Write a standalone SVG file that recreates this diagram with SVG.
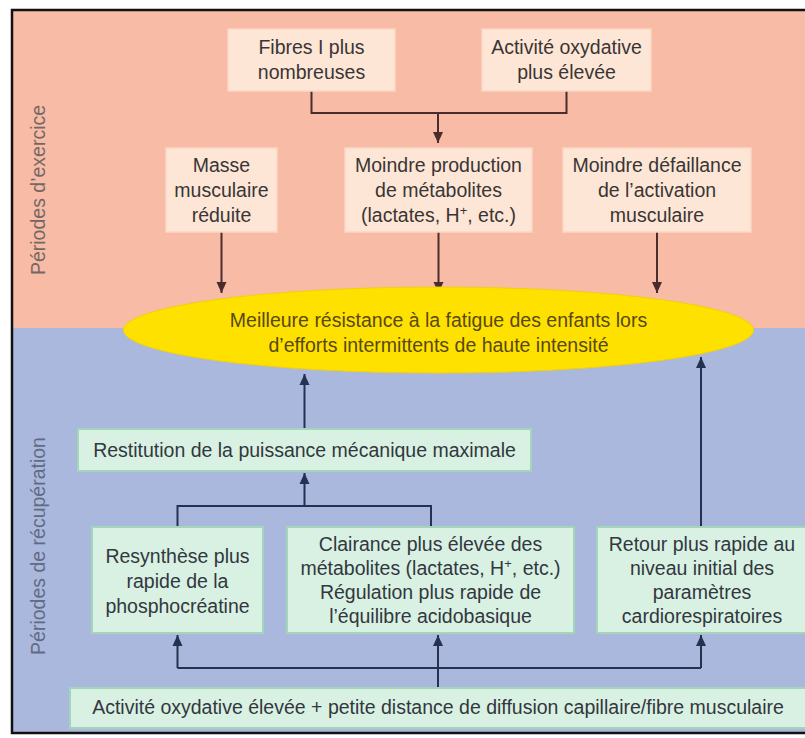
<svg xmlns="http://www.w3.org/2000/svg" width="805" height="738" viewBox="0 0 805 738">
<defs>
<style>
text{font-family:"Liberation Sans",Arial,sans-serif;font-size:19.5px;text-anchor:middle}
.t{fill:#3a3535}
.tb{fill:#33373f}
.te{fill:#584814}
.side{font-size:19.5px}
.pbox{fill:#fde6d5;stroke:#fbd8c4;stroke-width:1.5}
.gbox{fill:#d8f1e2;stroke:#a3d6b8;stroke-width:2}
.cp{fill:none;stroke:#4a2c2c;stroke-width:2}
.cb{fill:none;stroke:#263050;stroke-width:2}
</style>
<marker id="ap" markerUnits="userSpaceOnUse" markerWidth="12" markerHeight="12" viewBox="0 0 12 12" refX="11" refY="6" orient="auto"><path d="M0 1 L11 6 L0 11 Z" fill="#4a2c2c"/></marker>
<marker id="ab" markerUnits="userSpaceOnUse" markerWidth="12" markerHeight="12" viewBox="0 0 12 12" refX="11" refY="6" orient="auto"><path d="M0 1 L11 6 L0 11 Z" fill="#263050"/></marker>
</defs>
<rect x="0" y="0" width="805" height="738" fill="#ffffff"/>
<rect x="12" y="10" width="800" height="318" fill="#f7bba6"/>
<rect x="12" y="328" width="800" height="405" fill="#aab8de"/>
<rect x="12" y="10" width="800" height="723" fill="none" stroke="#111" stroke-width="2.5"/>
<text class="side" transform="translate(45,190) rotate(-90)" fill="#756864">Périodes d’exercice</text>
<text class="side" transform="translate(45,546) rotate(-90)" fill="#636a82">Périodes de récupération</text>
<g id="connectors">
<path class="cp" d="M311.5 91 V113 H566.5 V91"/>
<path class="cp" d="M438 113 V143" marker-end="url(#ap)"/>
<path class="cp" d="M221.5 232 V293" marker-end="url(#ap)"/>
<path class="cp" d="M438.5 232 V293" marker-end="url(#ap)"/>
<path class="cp" d="M657 232 V293" marker-end="url(#ap)"/>
<path class="cb" d="M304.5 429 V374" marker-end="url(#ab)"/>
<path class="cb" d="M701 527 V357" marker-end="url(#ab)"/>
<path class="cb" d="M177.5 527 V506 H431 V527"/>
<path class="cb" d="M304.5 506 V473" marker-end="url(#ab)"/>
<path class="cb" d="M177.5 668 H701"/>
<path class="cb" d="M177.5 668 V635" marker-end="url(#ab)"/>
<path class="cb" d="M701 668 V635" marker-end="url(#ab)"/>
<path class="cb" d="M438 688 V635" marker-end="url(#ab)"/>
</g>
<g id="fibres">
<rect class="pbox" x="228" y="29" width="167" height="62"/>
<text class="t" x="311.5" y="54">Fibres I plus</text>
<text class="t" x="311.5" y="79">nombreuses</text>
</g>
<g id="activite">
<rect class="pbox" x="482" y="29" width="169" height="62"/>
<text class="t" x="566.5" y="54">Activité oxydative</text>
<text class="t" x="566.5" y="79">plus élevée</text>
</g>
<g id="masse">
<rect class="pbox" x="166" y="148" width="111" height="84"/>
<text class="t" x="221.5" y="172">Masse</text>
<text class="t" x="221.5" y="197">musculaire</text>
<text class="t" x="221.5" y="222">réduite</text>
</g>
<g id="production">
<rect class="pbox" x="345" y="148" width="187" height="84"/>
<text class="t" x="438.5" y="172">Moindre production</text>
<text class="t" x="438.5" y="197">de métabolites</text>
<text class="t" x="438.5" y="222">(lactates, H<tspan dy="-7" font-size="13">+</tspan><tspan dy="7">, etc.)</tspan></text>
</g>
<g id="defaillance">
<rect class="pbox" x="563" y="148" width="188" height="84"/>
<text class="t" x="657" y="172">Moindre défaillance</text>
<text class="t" x="657" y="197">de l’activation</text>
<text class="t" x="657" y="222">musculaire</text>
</g>
<g id="resistance">
<ellipse cx="438.5" cy="330" rx="315" ry="43" fill="#ffe100" stroke="#f2cf10" stroke-width="1"/>
<text class="te" x="438.5" y="327">Meilleure résistance à la fatigue des enfants lors</text>
<text class="te" x="438.5" y="352">d’efforts intermittents de haute intensité</text>
</g>
<g id="restitution">
<rect class="gbox" x="78" y="429" width="453" height="42"/>
<text class="tb" x="304.5" y="457">Restitution de la puissance mécanique maximale</text>
</g>
<g id="resynthese">
<rect class="gbox" x="92" y="527" width="171" height="106"/>
<text class="tb" x="177.5" y="563">Resynthèse plus</text>
<text class="tb" x="177.5" y="588">rapide de la</text>
<text class="tb" x="177.5" y="613">phosphocréatine</text>
</g>
<g id="clairance">
<rect class="gbox" x="287" y="527" width="287" height="106"/>
<text class="tb" x="430.5" y="551">Clairance plus élevée des</text>
<text class="tb" x="430.5" y="575">métabolites (lactates, H<tspan dy="-7" font-size="13">+</tspan><tspan dy="7">, etc.)</tspan></text>
<text class="tb" x="430.5" y="599">Régulation plus rapide de</text>
<text class="tb" x="430.5" y="623">l’équilibre acidobasique</text>
</g>
<g id="retour">
<rect class="gbox" x="597" y="527" width="212" height="106"/>
<text class="tb" x="702" y="551">Retour plus rapide au</text>
<text class="tb" x="702" y="575">niveau initial des</text>
<text class="tb" x="702" y="599">paramètres</text>
<text class="tb" x="702" y="623">cardiorespiratoires</text>
</g>
<g id="oxydative">
<rect class="gbox" x="70" y="688" width="740" height="40"/>
<text class="tb" x="438" y="714">Activité oxydative élevée + petite distance de diffusion capillaire/fibre musculaire</text>
</g>
</svg>
